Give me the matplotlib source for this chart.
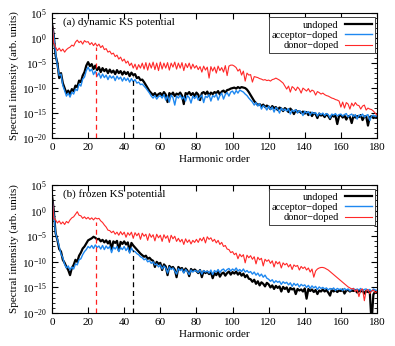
import numpy as np
import matplotlib.pyplot as plt
from matplotlib.ticker import FixedLocator, NullFormatter

plt.rcParams['font.family'] = ['Liberation Serif', 'DejaVu Serif']
plt.rcParams['mathtext.fontset'] = 'custom'
plt.rcParams['mathtext.rm'] = 'Liberation Serif'
plt.rcParams['mathtext.it'] = 'Liberation Serif:italic'
plt.rcParams['font.size'] = 8

# harmonic orders 0..180, spectra given as log10 of intensity
harm = np.arange(0, 181)

# (a) dynamic KS potential
und_a = [3.0, 0.5, -3.5, -5.0, -8.0, -7.0, -9.0, -10.0, -11.0, -10.5,
         -11.2, -10.2, -10.6, -9.5, -9.8, -8.5, -8.8, -7.5, -6.8, -5.5,
         -4.8, -5.6, -5.2, -6.2, -5.5, -6.4, -5.8, -6.8, -6.0, -6.6,
         -6.2, -7.0, -6.3, -6.9, -6.5, -7.2, -6.4, -7.0, -6.6, -7.3,
         -6.7, -7.2, -6.8, -7.6, -6.9, -7.4, -7.2, -8.0, -7.8, -8.4,
         -8.3, -8.8, -9.4, -10.0, -10.6, -11.0, -11.4, -11.0, -11.6, -11.2,
         -11.0, -11.5, -10.8, -11.3, -12.8, -11.0, -11.4, -10.9, -11.6, -11.1,
         -11.3, -10.9, -11.5, -13.2, -11.0, -11.2, -10.8, -11.4, -11.0, -11.6,
         -10.9, -11.3, -12.4, -11.0, -10.8, -11.2, -10.7, -11.5, -10.9, -11.2,
         -10.8, -11.0, -10.6, -11.3, -10.7, -10.5, -10.9, -10.4, -10.3, -10.1,
         -10.0, -9.9, -10.1, -9.8, -10.0, -9.8, -9.9, -10.0, -10.3, -10.8,
         -11.4, -12.0, -12.6, -13.0, -13.4, -13.2, -13.6, -13.3, -13.8, -13.5,
         -13.7, -14.2, -13.6, -14.0, -13.8, -14.4, -13.9, -14.1, -14.6, -14.0,
         -14.3, -14.8, -14.1, -14.5, -15.2, -14.4, -14.8, -14.6, -15.0, -14.7,
         -15.1, -14.8, -15.4, -14.9, -15.6, -15.0, -15.2, -16.0, -15.1, -15.5,
         -15.3, -15.8, -15.2, -15.6, -16.2, -15.4, -15.7, -15.5, -17.2, -15.6,
         -15.4, -15.9, -15.5, -16.3, -15.6, -15.8, -17.0, -15.5, -15.9, -15.6,
         -15.8, -15.4, -16.4, -15.7, -15.6, -17.5, -15.8, -15.6, -16.0, -15.7,
         -15.9]
acc_a = [2.5, 0.5, -3.0, -5.5, -7.5, -7.2, -9.5, -10.5, -11.6, -11.0,
         -11.8, -10.8, -11.2, -10.2, -10.5, -9.2, -9.6, -8.2, -7.8, -6.5,
         -5.8, -6.6, -6.2, -7.3, -6.6, -7.6, -7.0, -8.0, -7.2, -7.9,
         -7.4, -8.3, -7.5, -8.0, -7.6, -8.5, -7.6, -8.2, -7.8, -8.6,
         -7.9, -8.5, -8.0, -8.8, -8.1, -8.7, -8.3, -9.0, -8.8, -9.3,
         -9.2, -9.6, -10.0, -10.5, -11.0, -11.6, -12.0, -11.5, -12.2, -11.7,
         -11.5, -12.0, -11.3, -12.4, -11.6, -12.8, -11.4, -11.9, -13.4, -11.6,
         -12.0, -11.4, -12.2, -11.7, -12.6, -11.5, -11.9, -13.0, -11.6, -12.1,
         -11.5, -12.4, -11.8, -11.4, -12.9, -11.6, -11.9, -11.3, -12.6, -11.5,
         -11.8, -11.2, -12.4, -11.5, -11.0, -12.2, -11.3, -10.9, -11.6, -10.8,
         -10.6, -11.2, -10.5, -11.0, -10.4, -10.6, -10.8, -11.2, -11.5, -12.0,
         -12.4, -12.8, -13.4, -12.9, -13.6, -13.1, -14.2, -13.5, -13.8, -14.4,
         -13.6, -14.3, -13.8, -14.8, -13.9, -14.2, -15.0, -14.0, -14.5, -14.2,
         -14.6, -14.1, -15.2, -14.4, -14.7, -14.3, -15.0, -14.5, -14.8, -15.5,
         -14.6, -15.0, -14.7, -15.4, -14.8, -15.1, -14.9, -15.6, -15.0, -15.3,
         -15.0, -15.5, -15.1, -15.3, -16.0, -15.2, -15.4, -15.1, -15.6, -15.3,
         -15.2, -15.6, -15.3, -15.1, -15.8, -15.4, -15.2, -15.7, -15.3, -16.2,
         -15.4, -15.6, -15.2, -15.8, -15.5, -15.3, -16.5, -15.6, -15.4, -15.7,
         -15.5]
don_a = [3.6, -1.0, -1.8, -2.5, -2.0, -2.6, -2.2, -2.8, -2.3, -2.0,
         -1.8, -1.4, -1.6, -0.8, -0.4, -0.9, -0.6, -1.2, -0.5, -0.8,
         -0.7, -1.3, -0.9, -1.5, -1.0, -1.6, -1.2, -1.9, -1.5, -2.3,
         -2.1, -2.8, -2.6, -3.2, -3.0, -3.7, -3.4, -4.2, -3.8, -4.6,
         -4.2, -5.0, -4.6, -5.5, -5.0, -6.0, -5.2, -6.3, -5.3, -6.0,
         -5.0, -6.2, -4.9, -6.4, -5.0, -6.0, -4.8, -6.3, -5.0, -6.5,
         -4.8, -6.2, -5.0, -6.0, -4.9, -6.4, -5.0, -5.8, -4.8, -6.2,
         -5.0, -6.0, -4.9, -6.5, -5.1, -5.9, -5.0, -6.2, -5.2, -6.0,
         -5.5, -6.3, -5.7, -6.8, -5.6, -6.4, -5.8, -8.0, -5.7, -6.6,
         -5.8, -7.0, -5.6, -6.5, -5.9, -6.8, -5.5, -7.5, -5.6, -5.4,
         -5.4, -5.6, -5.9, -6.6, -6.2, -7.4, -6.6, -8.6, -7.0, -7.4,
         -7.3, -8.8, -7.7, -7.8, -7.9, -8.1, -8.2, -8.4, -8.3, -8.5,
         -8.4, -8.6, -8.3, -8.2, -8.0, -8.2, -8.4, -8.7, -9.0, -9.6,
         -10.2, -9.6, -10.8, -9.7, -10.0, -10.5, -9.8, -10.2, -11.0, -10.0,
         -10.3, -10.6, -10.1, -10.8, -10.4, -10.6, -11.4, -10.7, -10.9, -11.2,
         -11.0, -11.3, -11.5, -11.6, -11.8, -12.0, -12.1, -12.3, -12.4, -12.6,
         -13.8, -12.8, -14.0, -12.9, -13.2, -14.2, -13.0, -13.6, -12.9, -13.4,
         -13.5, -14.2, -13.6, -13.4, -14.4, -14.0, -14.2, -14.3, -14.6, -15.0,
         -15.4]

# (b) frozen KS potential
und_b = [3.0, 0.0, -4.4, -5.7, -7.5, -8.0, -9.6, -10.2, -11.0, -11.6,
         -12.6, -11.2, -10.6, -9.6, -10.0, -8.8, -8.2, -7.4, -7.0, -6.4,
         -5.8, -5.6, -5.4, -5.1, -5.3, -5.6, -5.5, -6.0, -5.7, -6.2,
         -5.8, -6.4, -5.9, -7.5, -6.0, -6.3, -5.9, -7.8, -6.1, -6.5,
         -6.0, -6.6, -6.2, -8.0, -6.3, -6.8, -7.2, -7.6, -8.0, -8.4,
         -8.7, -9.0, -8.8, -9.4, -9.2, -9.6, -9.8, -11.0, -10.0, -10.4,
         -10.2, -11.6, -10.5, -10.9, -12.6, -10.8, -11.2, -11.0, -11.5, -13.0,
         -11.0, -11.4, -11.2, -12.0, -11.3, -11.7, -12.8, -11.4, -11.8, -11.5,
         -11.8, -12.2, -11.6, -13.0, -11.8, -12.2, -11.9, -12.4, -12.0, -13.2,
         -12.2, -12.6, -12.0, -12.9, -12.3, -12.1, -12.7, -12.2, -11.9, -12.5,
         -12.0, -12.3, -11.9, -12.5, -12.1, -12.7, -12.3, -13.0, -12.6, -13.3,
         -13.4, -13.9, -13.5, -14.3, -13.8, -14.6, -14.0, -14.3, -14.8, -14.1,
         -14.4, -15.0, -14.6, -15.3, -14.7, -15.1, -14.8, -15.8, -14.9, -15.3,
         -15.0, -15.9, -15.1, -15.4, -15.2, -16.3, -15.3, -15.6, -15.4, -15.8,
         -15.2, -17.2, -15.3, -15.7, -15.4, -15.9, -15.5, -16.3, -15.6, -15.8,
         -15.4, -15.8, -15.5, -16.0, -16.6, -15.4, -15.8, -15.5, -15.9, -15.6,
         -15.7, -15.4, -16.2, -15.6, -15.5, -15.8, -15.6, -15.7, -15.5, -16.0,
         -15.6, -15.8, -15.5, -16.2, -15.7, -15.9, -15.8, -22.0, -16.4, -15.8,
         -16.0]
acc_b = [2.5, -0.5, -4.4, -5.6, -7.0, -8.5, -9.2, -10.5, -11.2, -10.8,
         -11.6, -11.0, -11.4, -10.4, -10.6, -9.6, -9.4, -8.6, -8.0, -7.6,
         -7.0, -7.3, -6.8, -7.4, -6.7, -7.2, -6.9, -7.5, -6.8, -7.6,
         -6.9, -7.4, -7.0, -8.2, -7.1, -7.5, -7.0, -8.0, -7.2, -7.6,
         -7.0, -7.8, -7.2, -8.3, -7.3, -7.9, -8.0, -8.4, -8.6, -9.0,
         -9.2, -9.6, -9.4, -10.0, -9.8, -10.3, -10.0, -10.6, -10.4, -11.0,
         -10.6, -11.4, -10.8, -11.2, -12.2, -11.0, -11.5, -11.2, -11.8, -12.4,
         -11.3, -11.7, -11.4, -12.2, -11.5, -11.9, -12.5, -11.6, -12.0, -11.7,
         -11.8, -12.1, -11.6, -12.4, -11.7, -12.0, -11.8, -12.2, -11.6, -12.5,
         -11.7, -12.0, -11.5, -12.1, -11.6, -11.4, -11.9, -11.5, -11.3, -11.8,
         -11.4, -11.7, -11.2, -11.8, -11.5, -11.9, -11.4, -12.0, -11.7, -12.1,
         -11.9, -12.4, -12.0, -12.6, -12.2, -12.8, -12.4, -13.0, -12.6, -13.2,
         -13.4, -13.8, -13.5, -14.1, -13.7, -14.0, -13.8, -14.4, -13.9, -14.2,
         -14.0, -14.5, -14.1, -14.8, -14.2, -14.6, -14.3, -14.9, -14.4, -14.7,
         -14.5, -15.0, -14.6, -15.2, -14.7, -15.1, -14.8, -15.4, -14.9, -15.2,
         -15.0, -15.3, -15.1, -15.5, -15.2, -15.4, -15.1, -15.6, -15.2, -15.4,
         -15.3, -15.6, -15.2, -15.5, -15.3, -15.7, -15.4, -15.2, -15.6, -15.3,
         -15.5, -15.2, -15.7, -15.4, -15.3, -15.6, -15.4, -15.8, -15.3, -15.5,
         -15.6]
don_b = [3.2, -1.5, -1.8, -2.4, -2.0, -2.6, -2.2, -2.7, -2.1, -2.4,
         -1.8, -1.4, -1.2, -0.7, -0.2, -0.9, -1.0, -1.5, -1.2, -1.6,
         -1.3, -1.7, -1.4, -1.8, -1.4, -1.6, -1.5, -2.0, -2.3, -2.8,
         -3.2, -3.8, -3.9, -4.3, -4.0, -4.6, -4.2, -4.8, -4.1, -4.7,
         -4.2, -5.2, -4.3, -4.8, -4.2, -5.4, -4.3, -4.9, -4.4, -5.6,
         -4.4, -5.0, -4.6, -5.8, -4.5, -5.2, -4.7, -5.9, -4.6, -5.3,
         -4.8, -6.0, -4.7, -5.4, -4.9, -6.2, -4.8, -5.5, -5.0, -6.0,
         -5.4, -6.1, -5.6, -6.6, -5.5, -6.2, -5.7, -6.5, -5.8, -6.2,
         -5.6, -6.2, -5.4, -5.9, -5.2, -6.3, -5.1, -5.6, -5.3, -6.0,
         -5.6, -6.3, -5.8, -6.6, -6.2, -7.0, -6.8, -7.5, -7.6, -8.2,
         -8.0, -8.6, -8.3, -9.4, -8.5, -9.0, -8.6, -10.2, -8.7, -9.2,
         -8.8, -9.5, -9.0, -10.4, -9.1, -9.6, -9.3, -10.8, -9.5, -9.9,
         -9.6, -10.3, -9.8, -11.0, -9.9, -10.4, -10.0, -11.2, -10.2, -10.6,
         -10.3, -11.0, -10.5, -11.5, -10.6, -10.9, -10.7, -11.6, -10.9, -11.3,
         -11.0, -11.6, -11.2, -12.0, -11.4, -13.0, -11.8, -11.4, -11.2, -11.1,
         -11.1, -11.2, -11.4, -11.6, -11.9, -12.2, -12.5, -12.8, -13.1, -13.4,
         -13.7, -14.0, -14.3, -14.6, -14.9, -15.1, -15.3, -15.2, -15.8, -15.4,
         -16.8, -15.5, -15.3, -17.6, -15.6, -15.4, -16.2, -15.7, -15.5, -16.0,
         -15.8]

# dashed markers: harmonic order and top of the line (log10)
mark_h = [24.6, 45.0]
mark_top_a = [-1.8, -7.6]
mark_top_b = [-2.2, -7.6]
mark_col = ['#ff2020', 'black']

labels = ['undoped', 'acceptor\u2212doped', 'donor\u2212doped']
colors = ['black', '#1e88f0', '#ff2828']
widths = [1.6, 1.0, 0.8]
titles = ['(a) dynamic KS potential', '(b) frozen KS potential']

fig = plt.figure(figsize=(3.95, 3.46), dpi=100)
ax1 = fig.add_axes([0.1316, 0.601, 0.8228, 0.361])
ax2 = fig.add_axes([0.1316, 0.0954, 0.8228, 0.3696])

panels = [(ax1, [und_a, acc_a, don_a], mark_top_a),
          (ax2, [und_b, acc_b, don_b], mark_top_b)]

for k, (ax, series, tops) in enumerate(panels):
    for s, lab, c, w in zip(series, labels, colors, widths):
        ax.semilogy(harm, 10.0 ** np.array(s), color=c, lw=w, label=lab)
    for h, t, c in zip(mark_h, tops, mark_col):
        ax.vlines(h, 1e-20, 10.0 ** t, colors=c, linestyles=(0, (4, 3)), lw=0.9)
    ax.set_xlim(0, 180)
    ax.set_ylim(1e-20, 1e5)
    ax.set_xticks(np.arange(0, 181, 20))
    ax.set_yticks([1e-20, 1e-15, 1e-10, 1e-5, 1e0, 1e5])
    ax.yaxis.set_minor_locator(FixedLocator([10.0 ** e for e in range(-20, 6)]))
    ax.yaxis.set_minor_formatter(NullFormatter())
    ax.tick_params(which='both', direction='in', top=True, right=True, labelsize=8)
    ax.tick_params(which='major', length=4, width=0.8)
    ax.tick_params(which='minor', length=2, width=0.6)
    ax.set_xlabel('Harmonic order', fontsize=8, labelpad=2)
    ax.set_ylabel('Spectral intensity (arb. units)', fontsize=8, labelpad=2)
    ax.text(0.034, 0.93, titles[k], transform=ax.transAxes, fontsize=8, va='center')
    leg = ax.legend(loc='upper right', bbox_to_anchor=(0.994, 0.968), borderaxespad=0,
                    markerfirst=False, fancybox=False, edgecolor='0.25', framealpha=1,
                    fontsize=7.5, handlelength=2.6, labelspacing=0.1, borderpad=0.3,
                    handletextpad=0.6)
    leg.get_frame().set_linewidth(0.7)
    for t in leg.get_texts():
        t.set_ha('right')

fig.savefig('out.png', dpi=100)
